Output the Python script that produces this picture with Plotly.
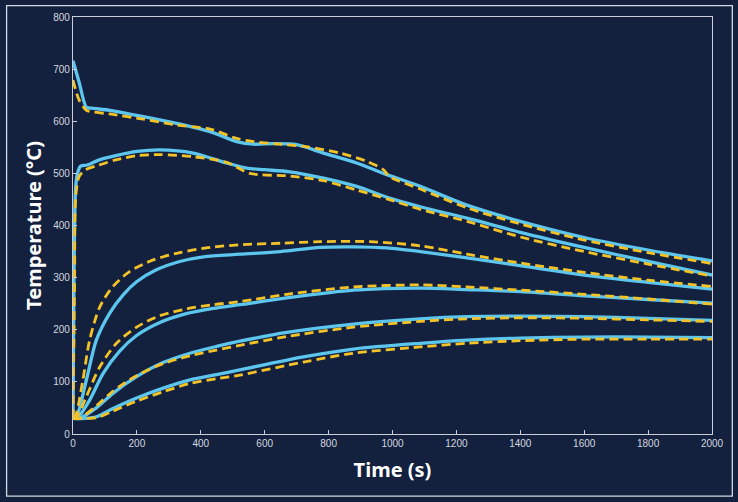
import plotly.graph_objects as go

# ---- data ----
t_s1 = [0, 20, 42, 60, 115, 220, 324, 429, 512, 565, 627, 700, 784, 888, 972, 1087, 1233, 1400, 1600, 1800, 2000]
T_s1 = [716, 673, 627, 625, 621, 609, 596, 580, 561, 556, 557, 555, 539, 520, 500, 475, 439, 408, 377, 353, 332]

t_d1 = [0, 19, 42, 60, 115, 220, 324, 429, 512, 565, 627, 732, 836, 920, 972, 990, 1087, 1233, 1400, 1600, 1800, 2000]
T_d1 = [679, 641, 621, 618, 614, 604, 593, 585, 567, 561, 557, 551, 539, 523, 507, 494, 470, 434, 403, 372, 348, 327]

t_s2 = [0, 3, 8, 14, 24, 45, 82, 134, 200, 272, 376, 481, 544, 600, 679, 784, 888, 993, 1087, 1233, 1400, 1600, 1800, 2000]
T_s2 = [30, 300, 470, 500, 514, 516, 526, 534, 542, 545, 539, 520, 510, 507, 503, 491, 475, 452, 436, 414, 387, 358, 331, 305]

t_d2 = [0, 5, 8, 19, 40, 82, 134, 200, 272, 376, 481, 554, 679, 784, 888, 993, 1087, 1233, 1400, 1600, 1800, 2000]
T_d2 = [30, 300, 449, 494, 507, 516, 526, 534, 536, 532, 521, 500, 495, 486, 468, 449, 431, 408, 378, 350, 326, 303]

t_s3 = [0, 10, 42, 73, 115, 157, 199, 261, 334, 408, 522, 650, 773, 880, 982, 1087, 1233, 1400, 1600, 1800, 2000]
T_s3 = [30, 32, 104, 180, 232, 267, 292, 315, 331, 340, 345, 350, 358, 359, 357, 350, 338, 323, 305, 291, 278]

t_d3 = [0, 8, 31, 52, 84, 125, 178, 251, 334, 429, 522, 650, 773, 930, 1087, 1233, 1400, 1600, 1800, 2000]
T_d3 = [30, 35, 104, 180, 244, 283, 312, 334, 348, 358, 363, 366, 369, 369, 361, 345, 328, 310, 295, 283]

t_s4 = [0, 15, 52, 94, 146, 199, 272, 355, 439, 522, 669, 878, 1087, 1233, 1400, 1600, 1800, 2000]
T_s4 = [30, 32, 65, 116, 159, 189, 214, 231, 241, 248, 261, 276, 280, 277, 273, 265, 258, 251]

t_d4 = [0, 12, 42, 84, 136, 199, 272, 355, 439, 522, 669, 878, 1087, 1233, 1400, 1600, 1800, 2000]
T_d4 = [30, 33, 72, 129, 174, 205, 227, 240, 248, 254, 268, 282, 286, 282, 276, 268, 259, 249]

t_c5 = [0, 20, 73, 125, 199, 282, 366, 449, 522, 669, 878, 1087, 1233, 1400, 1600, 1800, 2000]
T_s5 = [30, 30, 50, 78, 110, 137, 155, 168, 178, 195, 211, 221, 225, 226, 225, 222, 218]
T_d5 = [30, 30, 54, 82, 112, 135, 150, 161, 170, 187, 205, 216, 221, 223, 222, 219, 216]

t_c6 = [0, 40, 73, 125, 199, 282, 366, 449, 522, 721, 878, 1087, 1233, 1400, 1600, 1800, 2000]
T_s6 = [30, 30, 33, 49, 69, 88, 104, 114, 123, 148, 163, 174, 180, 184, 186, 186, 185]
T_d6 = [30, 30, 31, 44, 63, 81, 97, 106, 113, 138, 155, 167, 174, 179, 182, 182, 182]

x_ticks = list(range(0, 2001, 200))
y_ticks = list(range(0, 801, 100))

# ---- styles ----
BG = "#13213f"
BLUE = "#5cc6ef"
YELLOW = "#f3c227"
AXIS = "#c9ced8"
TICKFONT = dict(family="Liberation Sans, Arial, sans-serif", size=10, color="#d3d7df")
TITLEFONT = dict(family="Noto Sans, Open Sans, sans-serif", size=20, color="#ffffff", weight="bold")

solid_series = [(t_s1, T_s1), (t_s2, T_s2), (t_s3, T_s3), (t_s4, T_s4), (t_c5, T_s5), (t_c6, T_s6)]
dashed_series = [(t_d1, T_d1), (t_d2, T_d2), (t_d3, T_d3), (t_d4, T_d4), (t_c5, T_d5), (t_c6, T_d6)]

fig = go.Figure()
for tx, ty in solid_series:
    fig.add_trace(go.Scatter(x=tx, y=ty, mode="lines",
                             line=dict(color=BLUE, width=3.3, shape="spline", smoothing=0.8),
                             showlegend=False, hoverinfo="skip"))
for tx, ty in dashed_series:
    fig.add_trace(go.Scatter(x=tx, y=ty, mode="lines",
                             line=dict(color=YELLOW, width=2.8, dash="9px,5px", shape="spline", smoothing=0.8),
                             showlegend=False, hoverinfo="skip"))

axis_common = dict(showline=True, linecolor=AXIS, linewidth=1.2, mirror=True,
                   showgrid=False, zeroline=False, ticks="inside", ticklen=4,
                   tickcolor=AXIS, tickwidth=1, tickfont=TICKFONT)

fig.update_xaxes(range=[0, 2000], tickvals=x_ticks, ticktext=[str(v) for v in x_ticks],
                 title=dict(text="Time (s)", font=TITLEFONT, standoff=14), **axis_common)
fig.update_yaxes(range=[0, 800], tickvals=y_ticks, ticktext=[str(v) for v in y_ticks],
                 title=dict(text="Temperature (°C)", font=TITLEFONT, standoff=6), **axis_common)

# outer frame
fig.add_shape(type="rect", xref="paper", yref="paper",
              x0=-0.1039, x1=1.0318, y0=-0.1488, y1=1.0271,
              line=dict(color="#d5d9e1", width=1.3), fillcolor="rgba(0,0,0,0)", layer="below")

fig.update_layout(width=738, height=502, paper_bgcolor=BG, plot_bgcolor=BG,
                  margin=dict(l=73, r=26, t=17, b=68), showlegend=False)

fig.write_html("out.html")
